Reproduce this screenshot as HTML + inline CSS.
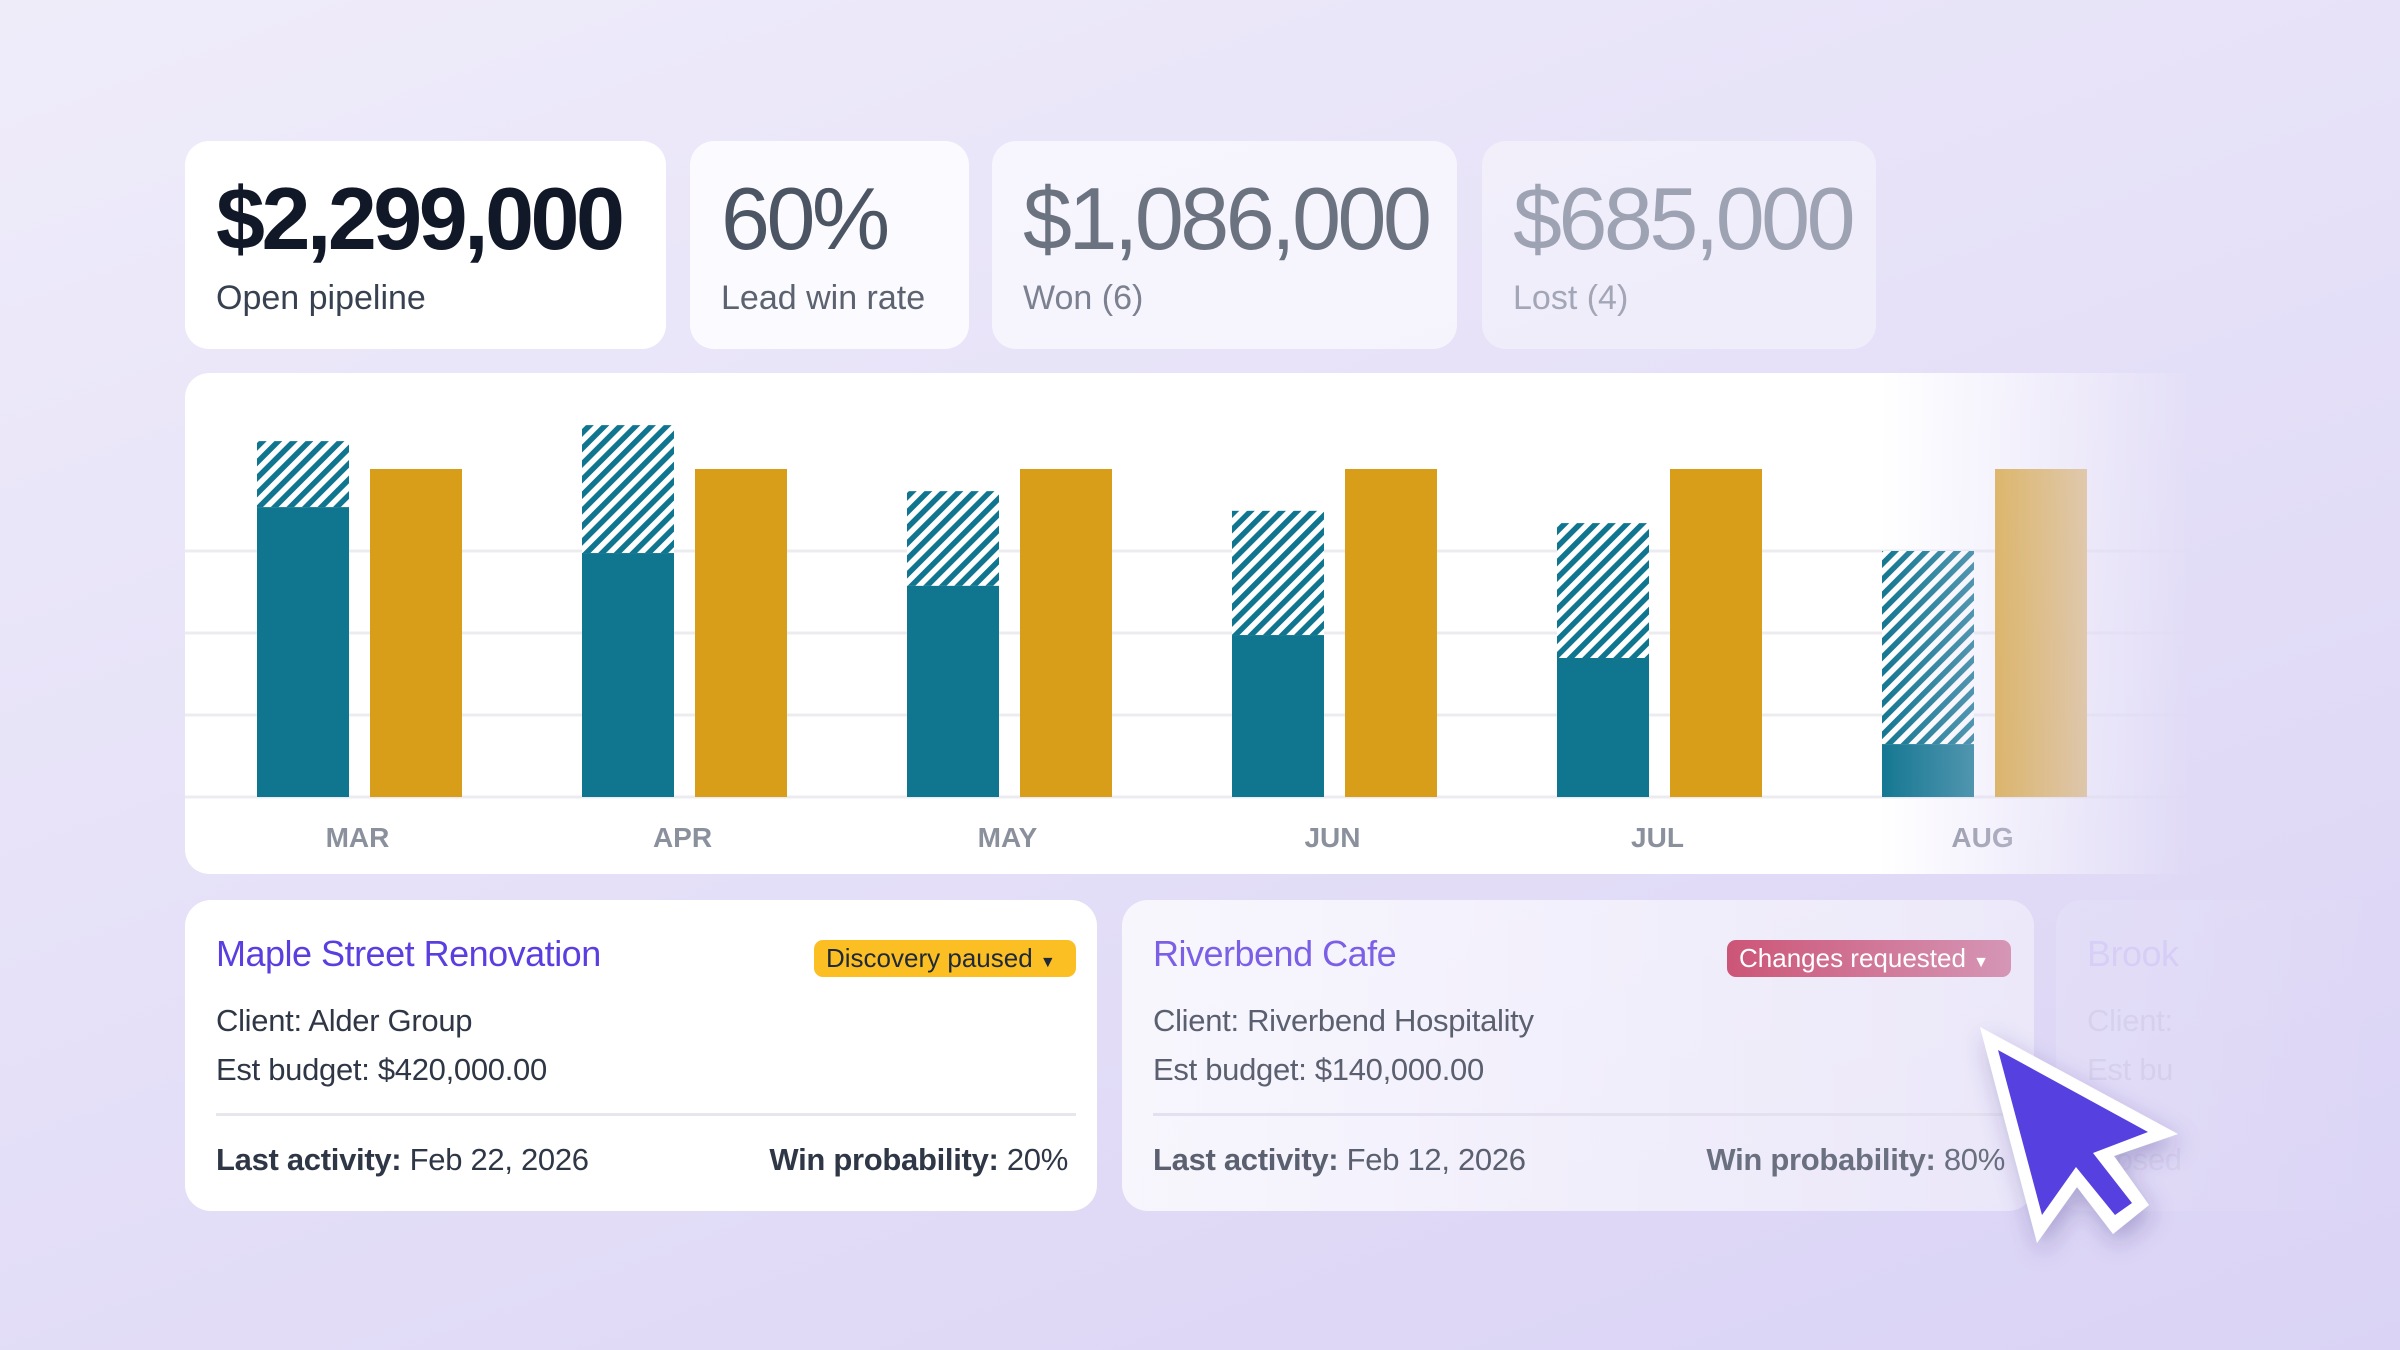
<!DOCTYPE html>
<html><head><meta charset="utf-8">
<style>
html,body{margin:0;padding:0;width:2400px;height:1350px;overflow:hidden}
body{background:linear-gradient(160deg,#efecfa 0%,#e6e1f8 45%,#dad3f5 100%);font-family:"Liberation Sans",sans-serif;position:relative}
.kpi{position:absolute;top:141px;height:208px;background:#fff;border-radius:24px}
.kpi .num{position:absolute;left:31px;top:28px;font-size:88px;letter-spacing:-3.5px;line-height:100px;white-space:nowrap}
.kpi .lbl{position:absolute;left:31px;font-size:34px;line-height:40px;white-space:nowrap}
.card{position:absolute;top:900px;height:311px;width:912px;background:#fff;border-radius:26px;overflow:hidden}
.card .title{position:absolute;left:31px;top:33px;font-size:36px;letter-spacing:-0.5px;white-space:nowrap}
.card .badge{position:absolute;top:40px;height:37px;border-radius:9px;font-size:26px;line-height:37px;padding:0 12px;white-space:nowrap;box-sizing:border-box}
.card .line{position:absolute;left:31px;font-size:31px;color:#2f3747;white-space:nowrap;letter-spacing:-0.3px}
.card .div{position:absolute;left:31px;right:21px;top:213px;height:3px;background:#e6e6ec}
.card b{font-weight:bold}
</style></head><body>

<div class="kpi" style="left:185px;width:481px">
  <div class="num" style="color:#111827;font-weight:bold">$2,299,000</div>
  <div class="lbl" style="top:137px;color:#374151">Open pipeline</div>
</div>
<div class="kpi" style="left:690px;width:279px;background:rgba(255,255,255,0.8)">
  <div class="num" style="color:#4b5563">60%</div>
  <div class="lbl" style="top:137px;color:#5b6270">Lead win rate</div>
</div>
<div class="kpi" style="left:992px;width:465px;background:rgba(255,255,255,0.6)">
  <div class="num" style="color:#6b7280">$1,086,000</div>
  <div class="lbl" style="top:137px;color:#7b8190">Won (6)</div>
</div>
<div class="kpi" style="left:1482px;width:394px;background:rgba(255,255,255,0.4)">
  <div class="num" style="color:#9ea3b3">$685,000</div>
  <div class="lbl" style="top:137px;color:#a2a6b6">Lost (4)</div>
</div>

<div style="position:absolute;left:185px;top:373px;width:2030px;height:501px;background:#fff;border-radius:24px;-webkit-mask-image:linear-gradient(to right,#000 0,#000 1690px,transparent 2010px);mask-image:linear-gradient(to right,#000 0,#000 1690px,transparent 2010px)">
<svg id="chart" width="2030" height="501" viewBox="185 373 2030 501" style="display:block">
  <defs>
    <pattern id="hatch" patternUnits="userSpaceOnUse" width="11" height="11" patternTransform="rotate(45)">
      <rect width="11" height="11" fill="#fff"/>
      <rect width="5.5" height="11" fill="#10758f"/>
    </pattern>
  </defs>
  <g id="grid"></g><g id="bars"></g><g id="labels"></g>
</svg>
</div>

<div id="yax" style="position:absolute;left:0;top:0"></div>

<div class="card" style="left:185px">
  <div class="title" style="color:#5b3ee0">Maple Street Renovation</div>
  <div class="badge" style="left:629px;width:262px;background:#fbbf24;color:#1f2937">Discovery paused <span style="font-size:16px">▼</span></div>
  <div class="line" style="top:103px">Client: Alder Group</div>
  <div class="line" style="top:152px">Est budget: $420,000.00</div>
  <div class="div"></div>
  <div class="line" style="top:242px"><b>Last activity:</b> Feb 22, 2026</div>
  <div class="line" style="top:242px;left:auto;right:29px"><b>Win probability:</b> 20%</div>
</div>

<div class="card" style="left:1122px;background:linear-gradient(to right,rgba(255,255,255,0.75),rgba(255,255,255,0.4))">
  <div class="title" style="color:#7b5fe6">Riverbend Cafe</div>
  <div class="badge" style="left:605px;width:284px;background:linear-gradient(to right,#cc5577,#d596b6);color:#fff">Changes requested <span style="font-size:16px">▼</span></div>
  <div class="line" style="top:103px;color:#5a6070">Client: Riverbend Hospitality</div>
  <div class="line" style="top:152px;color:#5a6070">Est budget: $140,000.00</div>
  <div class="div" style="background:#e4e0ef"></div>
  <div class="line" style="top:242px;color:#5a6070"><b>Last activity:</b> Feb 12, 2026</div>
  <div class="line" style="top:242px;left:auto;right:29px;color:#6a7080"><b>Win probability:</b> 80%</div>
</div>

<div class="card" style="left:2056px;width:344px;border-radius:26px 0 0 26px;background:linear-gradient(to right,rgba(255,255,255,0.12),rgba(255,255,255,0))">
  <div class="title" style="color:rgba(140,110,240,0.12)">Brook</div>
  <div class="line" style="top:103px;color:rgba(90,90,120,0.08)">Client:</div>
  <div class="line" style="top:152px;color:rgba(90,90,120,0.08)">Est bu</div>
  <div class="line" style="top:242px;color:rgba(90,90,120,0.06)">Closed</div>
</div>

<svg width="2400" height="1350" style="position:absolute;left:0;top:0;pointer-events:none">
  <defs><filter id="sh" x="-50%" y="-50%" width="200%" height="200%"><feDropShadow dx="4" dy="10" stdDeviation="12" flood-color="#3a2a80" flood-opacity="0.3"/></filter></defs>
  <polygon points="1980,1027 2178,1134 2114,1156 2149,1205 2113,1234 2077,1187 2037,1243" fill="#fff" filter="url(#sh)"/>
  <polygon points="1998,1050 2148,1132 2093,1153 2132,1203 2115,1215 2076,1167 2042,1215" fill="#5640e0"/>
</svg>

<script>
const months = ["MAR","APR","MAY","JUN","JUL","AUG"];
const wonValues = [707,595,515,395,339,129];
const pipelineValues = [868,907,746,698,668,600];
const targetValues = [800,800,800,800,800,800];
const yTicks = [0,200,400,600,800];

const NS = "http://www.w3.org/2000/svg";
const baseY = 797, pxPerUnit = 82/200;
const x0 = 257, groupStep = 325, barW = 92, gap = 21;
function yScale(v){ return baseY - v*pxPerUnit; }
function xGroup(i){ return x0 + i*groupStep; }
function mk(tag, attrs){ const e=document.createElementNS(NS,tag); for(const k in attrs) e.setAttribute(k,attrs[k]); return e; }

const grid=document.getElementById('grid'), bars=document.getElementById('bars'), labels=document.getElementById('labels');
yTicks.forEach((t,k)=>{
  const y=yScale(t);
  if(k<yTicks.length-1){
    const l=mk('line',{x1:185,x2:2215,y1:y,y2:y,stroke:'#ececf0','stroke-width':3});
    
    
    grid.appendChild(l);
  }
  const d=document.createElement('div');
  d.textContent=t;
  
  
  d.style.cssText='position:absolute;right:'+(2400-2175)+'px;top:'+(y-44)+'px;font-size:30px;color:rgba(170,160,210,0.25);text-align:right;width:80px;font-family:"Liberation Sans",sans-serif';
  document.getElementById('yax').appendChild(d);
});
months.forEach((m,i)=>{
  const x=xGroup(i);
  const hp=mk('rect',{x:x,y:yScale(pipelineValues[i]),width:barW,height:yScale(wonValues[i])-yScale(pipelineValues[i]),fill:'url(#hatch)'});
  
  
  bars.appendChild(hp);
  const w=mk('rect',{x:x,y:yScale(wonValues[i]),width:barW,height:baseY-yScale(wonValues[i]),fill:'#10758f'});
  
  
  bars.appendChild(w);
  const g=mk('rect',{x:x+barW+gap,y:yScale(targetValues[i]),width:barW,height:baseY-yScale(targetValues[i]),fill:'#d89e19'});
  
  
  bars.appendChild(g);
  const t=mk('text',{x:x+barW+gap/2-2,y:847,'text-anchor':'middle','font-size':28,'font-weight':'bold',fill:'#8b909d','font-family':'Liberation Sans, sans-serif'});
  t.textContent=m;
  
  
  labels.appendChild(t);
});
</script>
</body></html>
